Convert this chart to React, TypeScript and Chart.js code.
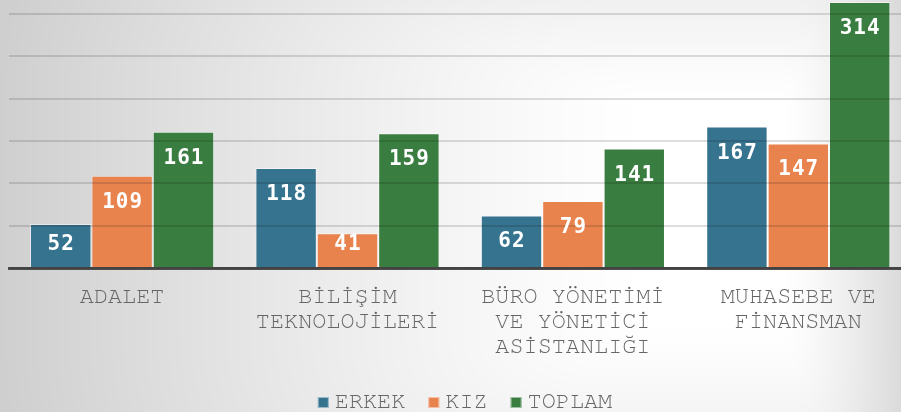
import { useEffect, useRef } from "react";
import { Chart, registerables } from "chart.js";

Chart.register(...registerables);

// Department names (multi-line tick labels)
const categories: string[][] = [
  ["ADALET"],
  ["BİLİŞİM", "TEKNOLOJİLERİ"],
  ["BÜRO YÖNETİMİ", "VE YÖNETİCİ", "ASİSTANLIĞI"],
  ["MUHASEBE VE", "FİNANSMAN"],
];

const seriesNames = ["ERKEK", "KIZ", "TOPLAM"];
const erkek = [52, 118, 62, 167];
const kiz = [109, 41, 79, 147];
const toplam = [161, 159, 141, 314];
const seriesColors = ["#36738f", "#e9834e", "#3a7d40"];

const yStep = 50;
const yMax = 316.5;

const MONO =
  "'Nimbus Mono PS', 'Nimbus Mono L', 'FreeMono', 'Courier 10 Pitch', 'Courier', 'Liberation Mono', monospace";
const LABEL_MONO = "'DejaVu Sans Mono', monospace";

// Soft grey backdrop that brightens towards the upper-right middle
let bgCache: ImageData | null = null;
const backgroundPlugin = {
  id: "softBackground",
  beforeDraw(chart: Chart) {
    const { ctx, width, height } = chart;
    if (!bgCache || bgCache.width !== width || bgCache.height !== height) {
      const img = ctx.createImageData(width, height);
      const d = img.data;
      for (let y = 0; y < height; y++) {
        const ty = y < 110 ? ((110 - y) / 110) * 0.4 : y > 320 ? ((y - 320) / 92) * 0.3 : 0;
        for (let x = 0; x < width; x++) {
          const tx = x < 650 ? (650 - x) / 650 : x > 780 ? (x - 780) / 150 : 0;
          const t = Math.min(1, Math.pow(Math.pow(tx, 3) + Math.pow(ty, 3), 1 / 3));
          const v = Math.round(255 - 48 * Math.pow(t, 1.3));
          const i = (y * width + x) * 4;
          d[i] = v;
          d[i + 1] = v;
          d[i + 2] = v;
          d[i + 3] = 255;
        }
      }
      bgCache = img;
    }
    ctx.putImageData(bgCache, 0, 0);
  },
};

// White value labels near the top of each bar
const valueLabelPlugin = {
  id: "valueLabels",
  afterDraw(chart: Chart) {
    const { ctx } = chart;
    ctx.save();
    ctx.font = `bold 21px ${LABEL_MONO}`;
    (ctx as any).letterSpacing = "1px";
    ctx.fillStyle = "#ffffff";
    ctx.textAlign = "center";
    ctx.textBaseline = "middle";
    chart.data.datasets.forEach((ds, di) => {
      const meta = chart.getDatasetMeta(di);
      meta.data.forEach((el: any, i) => {
        const v = ds.data[i] as number;
        const y = Math.min(el.y + 26.5, el.base - 22);
        ctx.fillText(String(v), el.x + 0.5, y);
      });
    });
    ctx.restore();
  },
};

// Legend row drawn under the axis labels
const legendPlugin = {
  id: "bottomLegend",
  afterDraw(chart: Chart) {
    const { ctx } = chart;
    ctx.save();
    ctx.font = `23.5px ${MONO}`;
    const box = 11;
    const gapText = 6;
    const gapItem = 23;
    const widths = seriesNames.map((n) => ctx.measureText(n).width);
    const total =
      widths.reduce((a, w) => a + box + gapText + w, 0) + gapItem * (seriesNames.length - 1);
    let x = 465 - total / 2;
    const baseline = 408;
    seriesNames.forEach((name, i) => {
      ctx.fillStyle = seriesColors[i];
      ctx.fillRect(x, baseline - box, box, box);
      ctx.strokeStyle = "rgba(255,255,255,0.5)";
      ctx.lineWidth = 1;
      ctx.strokeRect(x + 0.5, baseline - box + 0.5, box - 1, box - 1);
      ctx.fillStyle = "#666666";
      ctx.textBaseline = "alphabetic";
      ctx.textAlign = "left";
      ctx.fillText(name, x + box + gapText, baseline);
      x += box + gapText + widths[i] + gapItem;
    });
    ctx.restore();
  },
};

export default function App() {
  const canvasRef = useRef<HTMLCanvasElement | null>(null);

  useEffect(() => {
    const canvas = canvasRef.current;
    if (!canvas) return;
    const values = [erkek, kiz, toplam];
    const chart = new Chart(canvas, {
      type: "bar",
      data: {
        labels: categories,
        datasets: seriesNames.map((name, i) => ({
          label: name,
          data: values[i],
          backgroundColor: seriesColors[i],
          borderColor: "rgba(255,255,255,0.45)",
          borderWidth: 1,
          barPercentage: 1,
          categoryPercentage: 0.817,
        })),
      },
      options: {
        responsive: false,
        animation: false,
        devicePixelRatio: 1,
        layout: { padding: { left: 0, right: 1, top: 0, bottom: 39 } },
        plugins: {
          legend: { display: false },
          tooltip: { enabled: false },
        },
        scales: {
          x: {
            grid: { display: false, drawTicks: false },
            border: { display: true, color: "#4d4d4d", width: 3, z: 1 },
            ticks: {
              color: "#666666",
              font: { family: MONO, size: 23.5, lineHeight: "25px" },
              padding: 15,
              maxRotation: 0,
              minRotation: 0,
              autoSkip: false,
            },
          },
          y: {
            min: 0,
            max: yMax,
            afterFit: (scale: any) => {
              scale.width = 9.4;
            },
            border: { display: false },
            grid: {
              color: "rgba(0,0,0,0.13)",
              lineWidth: 2,
              drawTicks: false,
              z: 1,
            },
            ticks: { display: false, stepSize: yStep, includeBounds: false },
          },
        },
      },
      plugins: [backgroundPlugin, valueLabelPlugin, legendPlugin],
    });
    return () => chart.destroy();
  }, []);

  return (
    <div
      style={{
        position: "fixed",
        left: 0,
        top: 0,
        width: 901,
        height: 412,
        overflow: "hidden",
        background: "#ffffff",
      }}
    >
      <canvas ref={canvasRef} width={912} height={412} style={{ display: "block" }} />
    </div>
  );
}
